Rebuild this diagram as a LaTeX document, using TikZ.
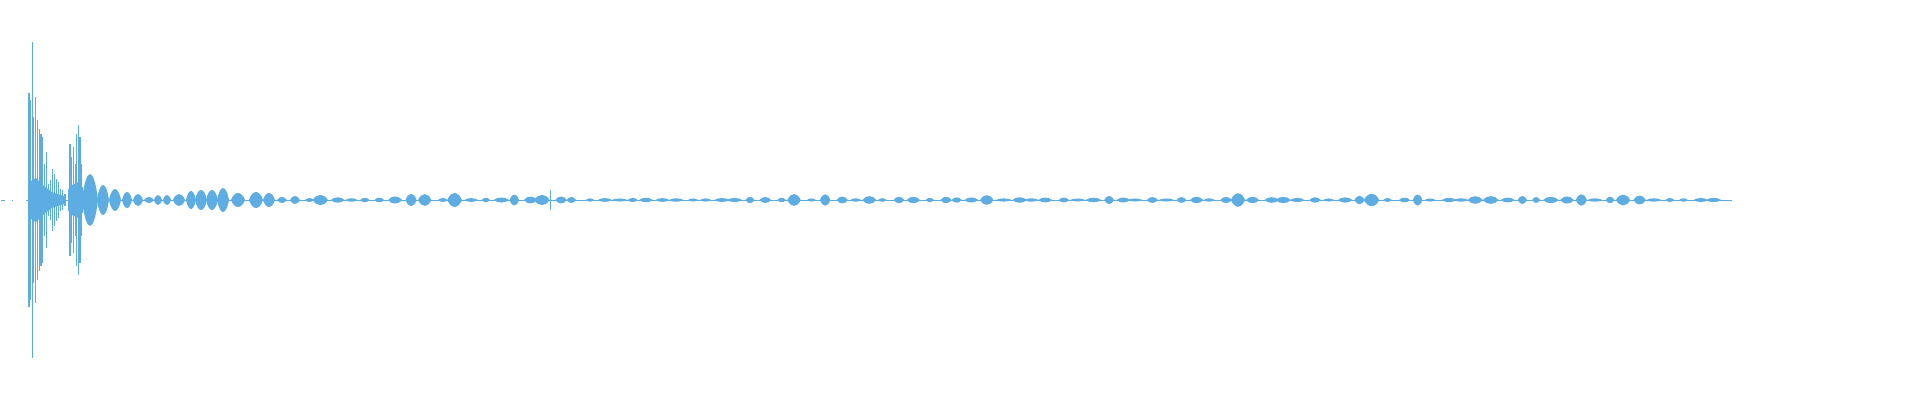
\documentclass[tikz,border=0pt]{standalone}
\begin{document}
\begin{tikzpicture}[x=1pt,y=-1pt]
\definecolor{wave}{RGB}{93,173,226}
\tikzset{spike/.style={draw=wave,line width=1.5pt},blob/.style={fill=wave,draw=none}}
\useasboundingbox (0,0) rectangle (1920,400);
\draw[wave,line width=0.8pt] (1,200) -- (5,200) (12,200) -- (13,200);
\draw[wave,line width=1pt] (26,200) -- (1732,200);
% dense cores
\fill[wave] (28,200) -- (29,182) -- (36,178) -- (44,186) -- (52,192) -- (64,196) -- (66,200) -- (64,204) -- (52,208) -- (44,214) -- (36,222) -- (29,218) -- cycle;
\fill[wave] (68,200) -- (70,186) -- (78,182) -- (83,192) -- (84,200) -- (83,208) -- (78,218) -- (70,214) -- cycle;
\foreach \x/\a in {29/107,30.7/100,32.3/158,33.7/83,35.3/103,37.3/80,39.3/71,41/66,42.7/63,44.3/36,46.3/48,48.3/16,50.3/20,52.3/31,54.3/26,56.7/21,58.7/18,60.7/11,62.7/10,65/6,68.7/11,70/56,71.3/43,73.3/53,75.3/36,76.7/66,78.3/75,80/63,81.3/36,82.7/13}
  \draw[spike] (\x,200-\a) -- (\x,200+\a);
\def\lens#1#2#3{\fill[blob] (#1-#2,200) .. controls (#1-#2/2,200-1.33*#3) and (#1+#2/2,200-1.33*#3) .. (#1+#2,200) .. controls (#1+#2/2,200+1.33*#3) and (#1-#2/2,200+1.33*#3) .. (#1-#2,200) -- cycle;}
\foreach \c/\w/\h in {90/8/26,103/6/15,115/6/11,127/5/8,138/5/6,149/5/3,158/4/5,167/4/5,179/6/6,191/5/9,201/6/10,212/6/10,223/6/12,238/7/7,256/7/8,269/6/7,282/5/3,295/5/4}
  {\lens{\c}{\w}{\h}}
\pgfmathsetseed{7}
\foreach \i in {0,...,95}{
  \pgfmathsetmacro\c{305+\i*14.8+rnd*5}
  \pgfmathsetmacro\w{4+rnd*4}
  \pgfmathsetmacro\h{1.5+rnd*rnd*6}
  \lens{\c}{\w}{\h}
}
\draw[spike,line width=0.8pt] (550,190) -- (550,210);
\end{tikzpicture}
\end{document}
